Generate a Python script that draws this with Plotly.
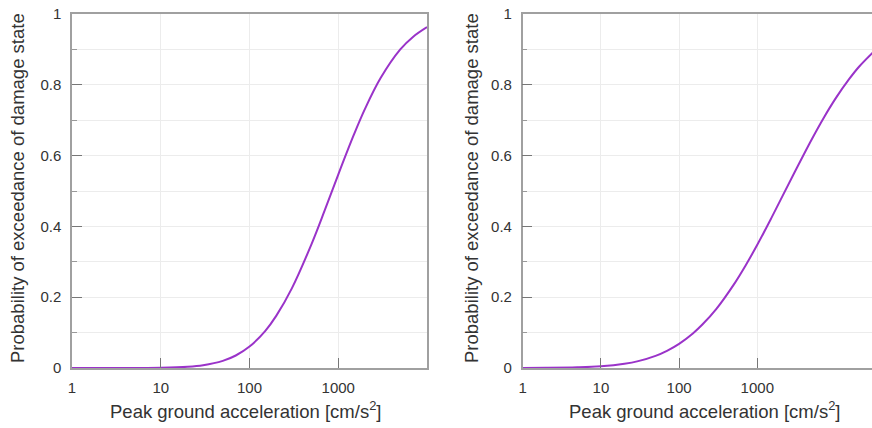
import plotly.graph_objects as go

# ---- data ----
pga_left = [1, 2, 5, 10, 20, 30, 50, 70, 100, 150, 200, 300, 500, 700,
            1000, 1500, 2000, 3000, 5000, 7000, 10000]
prob_left = [0.0, 0.00001, 0.0001, 0.00065, 0.0033, 0.0077, 0.0201, 0.0353,
             0.0606, 0.1044, 0.1473, 0.225, 0.350, 0.4436, 0.5465, 0.659,
             0.732, 0.819, 0.900, 0.936, 0.963]

pga_right = [1, 2, 5, 10, 20, 30, 50, 70, 100, 150, 200, 300, 500, 700,
             1000, 1500, 2000, 3000, 5000, 7000, 10000, 15000, 20000, 30000]
prob_right = [0.00011, 0.0004, 0.0018, 0.0048, 0.012, 0.0195, 0.0344, 0.0486,
              0.0682, 0.0975, 0.1234, 0.167, 0.2355, 0.2877, 0.348, 0.422,
              0.4764, 0.553, 0.647, 0.705, 0.761, 0.8165, 0.851, 0.891]

x_tick_vals = [1, 10, 100, 1000]
x_tick_text = ["1", "10", "100", "1000"]
y_tick_vals = [0, 0.2, 0.4, 0.6, 0.8, 1]
y_tick_text = ["0", "0.2", "0.4", "0.6", "0.8", "1"]

x_title = "Peak ground acceleration [cm/s<sup>2</sup>]"
y_title = "Probability of exceedance of damage state"

# ---- styling ----
W, H = 872, 428
L, R, T, B = 72, 0, 14, 60
paper_w = W - L - R
plot_h = H - T - B
FONT = "Arial, Liberation Sans, sans-serif"
CURVE = "#9a33c9"
AXIS = "#a0a0a0"
GRID = "#ececec"
TXT = "#333333"

fig = go.Figure()
fig.add_trace(go.Scatter(x=pga_left, y=prob_left, mode="lines",
                         line=dict(color=CURVE, width=2, shape="spline"),
                         xaxis="x", yaxis="y", showlegend=False))
fig.add_trace(go.Scatter(x=pga_right, y=prob_right, mode="lines",
                         line=dict(color=CURVE, width=2, shape="spline"),
                         xaxis="x2", yaxis="y2", showlegend=False))

def xax(domain, rng, anchor):
    return dict(type="log", domain=domain, range=rng, anchor=anchor,
                tickvals=x_tick_vals, ticktext=x_tick_text,
                ticks="inside", ticklen=10, tickcolor="#777", tickwidth=1,
                showline=True, linecolor=AXIS, linewidth=1.5, mirror=True,
                showgrid=True, gridcolor=GRID, gridwidth=1,
                zeroline=False, ticklabelstandoff=5, automargin=False,
                tickfont=dict(family=FONT, size=15, color=TXT))

def yax(anchor, mirror):
    return dict(domain=[0, 1], range=[0, 1], anchor=anchor,
                tickvals=y_tick_vals, ticktext=y_tick_text,
                ticks="inside", ticklen=10, tickcolor="#777", tickwidth=1,
                minor=dict(dtick=0.1, ticks="inside", ticklen=5,
                           tickcolor="#999", showgrid=True, gridcolor=GRID),
                showline=True, linecolor=AXIS, linewidth=1.5, mirror=mirror,
                showgrid=True, gridcolor=GRID, gridwidth=1,
                zeroline=False, ticklabelstandoff=6, automargin=False,
                tickfont=dict(family=FONT, size=15, color=TXT))

d1 = [0, (427 - L) / paper_w]
d2 = [(522.7 - L) / paper_w, 1]

def px_x(p):
    return (p - L) / paper_w

def px_y(p):
    return (H - B - p) / plot_h

title_font = dict(family=FONT, size=18.5, color=TXT)
annotations = [
    dict(text=x_title, x=px_x(245), y=px_y(410), xref="paper", yref="paper",
         xanchor="center", yanchor="middle", showarrow=False, font=title_font),
    dict(text=x_title, x=px_x(704), y=px_y(410), xref="paper", yref="paper",
         xanchor="center", yanchor="middle", showarrow=False, font=title_font),
    dict(text=y_title, x=px_x(17), y=px_y(188), xref="paper", yref="paper",
         xanchor="center", yanchor="middle", textangle=-90, showarrow=False,
         font=title_font),
    dict(text=y_title, x=px_x(471), y=px_y(188), xref="paper", yref="paper",
         xanchor="center", yanchor="middle", textangle=-90, showarrow=False,
         font=title_font),
]

fig.update_layout(
    width=W, height=H,
    margin=dict(l=L, r=R, t=T, b=B, autoexpand=False),
    paper_bgcolor="white", plot_bgcolor="white",
    font=dict(family=FONT, color=TXT),
    xaxis=xax(d1, [0, 4], "y"),
    yaxis=yax("x", True),
    xaxis2=xax(d2, [0, 4.467], "y2"),
    yaxis2=yax("x2", False),
    annotations=annotations,
)

fig.write_html(
    "out.html",
    config={"displayModeBar": False},
    post_script="document.body.style.margin='0';"
                "document.body.style.overflow='hidden';",
)
